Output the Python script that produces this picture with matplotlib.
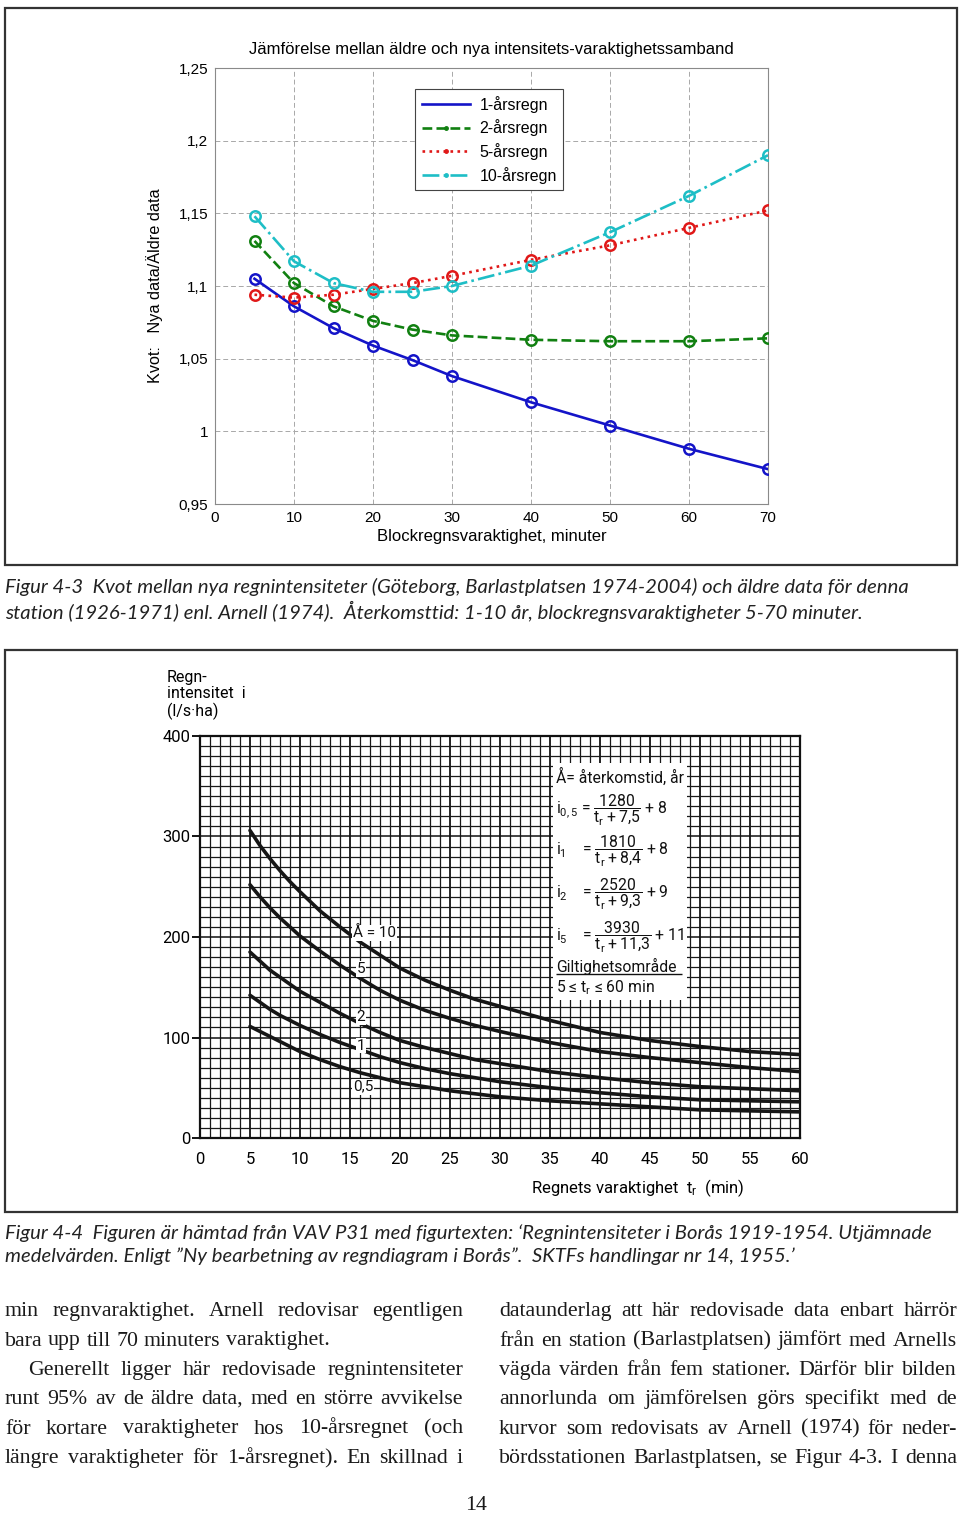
import numpy as np
import matplotlib
matplotlib.use("Agg")
import matplotlib.pyplot as plt
from matplotlib.patches import Rectangle
from matplotlib.lines import Line2D

W, H = 960, 1516

# --- Figur 4-3: ratio new/old intensities ---
dur = [5, 10, 15, 20, 25, 30, 40, 50, 60, 70]
r1 = [1.105, 1.086, 1.071, 1.059, 1.049, 1.038, 1.020, 1.004, 0.988, 0.974]
r2 = [1.131, 1.102, 1.086, 1.076, 1.070, 1.066, 1.063, 1.062, 1.062, 1.064]
r5 = [1.094, 1.092, 1.094, 1.098, 1.102, 1.107, 1.118, 1.128, 1.140, 1.152]
r10 = [1.148, 1.117, 1.102, 1.096, 1.096, 1.100, 1.114, 1.137, 1.162, 1.190]
top_names = ["1-årsregn", "2-årsregn", "5-årsregn", "10-årsregn"]
yt_top = [0.95, 1.0, 1.05, 1.1, 1.15, 1.2, 1.25]
yt_top_lab = ["0,95", "1", "1,05", "1,1", "1,15", "1,2", "1,25"]

# --- Figur 4-4: Borås intensity curves ---
tr = [5, 6, 7, 8, 9, 10, 12, 14, 16, 18, 20, 22.5, 25, 27.5, 30, 35, 40, 45, 50, 55, 60]
i10 = [306, 291, 278, 266, 255, 245, 226, 210, 195, 182, 169, 157, 147, 138, 131, 117, 105, 97, 91, 86, 83]
i5 = [252, 240, 229, 219, 210, 201, 186, 172, 159, 147, 137, 127, 119, 112, 106, 95, 86, 80, 75, 70, 66]
i2 = [185, 176, 167, 160, 153, 146, 135, 124, 114, 105, 97, 90, 84, 78, 74, 66, 60, 55, 51, 49, 47]
i1 = [142, 135, 128, 122, 117, 112, 103, 95, 88, 81, 75, 69, 64, 60, 56, 50, 45, 41, 38, 37, 36]
i05 = [111, 106, 101, 96, 91, 86, 78, 71, 65, 60, 55, 51, 47, 44, 41, 37, 34, 31, 28, 27, 26]

left_col = ["min regnvaraktighet. Arnell redovisar egentligen",
            "bara upp till 70 minuters varaktighet.",
            "Generellt ligger här redovisade regnintensiteter",
            "runt 95% av de äldre data, med en större avvikelse",
            "för kortare varaktigheter hos 10-årsregnet (och",
            "längre varaktigheter för 1-årsregnet). En skillnad i"]
right_col = ["dataunderlag att här redovisade data enbart härrör",
             "från en station (Barlastplatsen) jämfört med Arnells",
             "vägda värden från fem stationer. Därför blir bilden",
             "annorlunda om jämförelsen görs specifikt med de",
             "kurvor som redovisats av Arnell (1974) för neder-",
             "bördsstationen Barlastplatsen, se Figur 4-3. I denna"]

plt.rcParams["mathtext.fontset"] = "dejavusans"
fig = plt.figure(figsize=(W / 100, H / 100), dpi=100)


def fbox(x0, y0, x1, y1):
    # pixel box (top-left origin) -> figure fraction rect
    return [x0 / W, 1 - y1 / H, (x1 - x0) / W, (y1 - y0) / H]


for (y0, y1) in [(8, 565), (650, 1212)]:
    fig.add_artist(Rectangle((5 / W, 1 - y1 / H), 952 / W, (y1 - y0) / H,
                             transform=fig.transFigure, fill=False,
                             edgecolor="#333333", lw=1.6))

# ---------------- top chart ----------------
SANS = "Liberation Sans"
ax = fig.add_axes(fbox(215, 68, 768, 504))
styles = [("#1414c8", "-"), ("#118011", "--"), ("#e01818", ":"), ("#1ebec6", "-.")]
for ys, (c, ls) in zip([r1, r2, r5, r10], styles):
    ax.plot(dur, ys, color=c, ls=ls, lw=1.9, marker="o", ms=7.5, mfc="none",
            mew=1.8, zorder=3)
ax.set_xlim(0, 70)
ax.set_ylim(0.95, 1.25)
ax.set_xticks(range(0, 71, 10))
ax.set_yticks(yt_top)
ax.set_yticklabels(yt_top_lab)
ax.grid(True, color="#a8a8a8", ls=(0, (5, 3)), lw=0.7)
for s in ax.spines.values():
    s.set_color("#8a8a8a"); s.set_linewidth(0.8)
ax.tick_params(length=0, labelsize=11, pad=5)
for lab in ax.get_xticklabels() + ax.get_yticklabels():
    lab.set_family(SANS)
ax.set_title("Jämförelse mellan äldre och nya intensitets-varaktighetssamband",
             family=SANS, fontsize=12, pad=10)
ax.set_xlabel("Blockregnsvaraktighet, minuter", family=SANS, fontsize=12, labelpad=3)
ax.set_ylabel("Kvot:   Nya data/Äldre data", family=SANS, fontsize=11.7, labelpad=11)
handles = [Line2D([], [], color=c, ls=ls, lw=1.9, marker="." if i else None, ms=5)
           for i, (c, ls) in enumerate(styles)]
leg = ax.legend(handles, top_names, loc="upper left", bbox_to_anchor=(0.362, 0.952),
                borderaxespad=0, prop={"family": SANS, "size": 11.5}, fancybox=False,
                framealpha=1, edgecolor="#444444", handlelength=3.0, labelspacing=0.42,
                borderpad=0.42, handletextpad=0.6)
leg.get_frame().set_linewidth(0.8)

# captions
CAP = dict(family="Lato", style="italic", fontsize=14.6, va="center", color="#222222")
fig.text(5 / W, 1 - 587 / H, "Figur 4-3  Kvot mellan nya regnintensiteter (Göteborg, Barlastplatsen "
         "1974-2004) och äldre data för denna", **CAP)
fig.text(5 / W, 1 - 611 / H, "station (1926-1971) enl. Arnell (1974).  Återkomsttid: 1-10 år, "
         "blockregnsvaraktigheter 5-70 minuter.", **CAP)
fig.text(5 / W, 1 - 1233 / H, "Figur 4-4  Figuren är hämtad från VAV P31 med figurtexten: "
         "‘Regnintensiteter i Borås 1919-1954. Utjämnade", **CAP)
fig.text(5 / W, 1 - 1256 / H, "medelvärden. Enligt ”Ny bearbetning av regndiagram i Borås”.  "
         "SKTFs handlingar nr 14, 1955.’", **CAP)

# ---------------- bottom chart ----------------
NARROW = ["Roboto", "DejaVu Sans"]
bx = fig.add_axes(fbox(200, 736, 800, 1138))
bx.set_xlim(0, 60)
bx.set_ylim(0, 400)
bx.set_xticks(range(0, 61, 5))
bx.set_xticks(range(0, 61, 1), minor=True)
bx.set_yticks(range(0, 401, 100))
bx.set_yticks(range(0, 401, 10), minor=True)
bx.grid(True, which="minor", color="#1a1a1a", lw=0.9)
bx.grid(True, which="major", axis="x", color="#111111", lw=1.3)
bx.grid(True, which="major", axis="y", color="#111111", lw=1.1)
bx.set_axisbelow(True)
for s in bx.spines.values():
    s.set_color("#111111"); s.set_linewidth(1.6)
bx.tick_params(axis="x", which="both", length=0, pad=10, labelsize=12)
bx.tick_params(axis="y", which="minor", length=0)
bx.tick_params(axis="y", which="major", length=6, width=1.3, pad=1, labelsize=12)
for lab in bx.get_xticklabels() + bx.get_yticklabels():
    lab.set_family(NARROW)

for ys in [i10, i5, i2, i1, i05]:
    bx.plot(tr, ys, color="#161616", lw=2.6, solid_capstyle="round",
            solid_joinstyle="round", zorder=3)

bx.add_patch(Rectangle((35.3, 137), 13.4, 236, facecolor="white",
                       edgecolor="none", zorder=4))
TXT = dict(family=NARROW, fontsize=11.3, zorder=5, color="#111111")
bx.text(35.6, 359, "Å= återkomstid, år", va="center", **TXT)
bx.text(35.6, 326, r"i$_{\mathregular{0,5}}$ = $\mathregular{\dfrac{1280}{t_r+7{,}5}}$ + 8", va="center", **TXT)
bx.text(35.6, 285, r"i$_{\mathregular{1}}$    = $\mathregular{\dfrac{1810}{t_r+8{,}4}}$ + 8", va="center", **TXT)
bx.text(35.6, 242, r"i$_{\mathregular{2}}$    = $\mathregular{\dfrac{2520}{t_r+9{,}3}}$ + 9", va="center", **TXT)
bx.text(35.6, 200, r"i$_{\mathregular{5}}$    = $\mathregular{\dfrac{3930}{t_r+11{,}3}}$ + 11", va="center", **TXT)
bx.text(35.6, 171, "Giltighetsområde", va="center", **TXT)
bx.hlines(163, 35.6, 48.2, color="#111111", lw=1.0, zorder=5)
bx.text(35.6, 150, r"5 ≤ $\mathregular{t_r}$ ≤ 60 min", va="center", **TXT)

LBL = dict(family=NARROW, fontsize=11, zorder=5, va="center", color="#111111",
           bbox=dict(facecolor="white", edgecolor="none", pad=0.6))
bx.text(15.3, 204, "Å = 10", ha="left", **LBL)
bx.text(16.1, 168, "5", ha="center", **LBL)
bx.text(16.1, 120, "2", ha="center", **LBL)
bx.text(16.1, 92, "1", ha="center", **LBL)
bx.text(16.3, 51, "0,5", ha="center", **LBL)

fig.text(167 / W, 1 - 670 / H, "Regn-\nintensitet  i\n(l/s·ha)", family=NARROW,
         fontsize=11.5, va="top", linespacing=1.1)
fig.text(638 / W, 1 - 1188 / H, r"Regnets varaktighet  $\mathregular{t_r}$  (min)",
         family=NARROW, fontsize=12, ha="center", va="center")

# ---------------- body text (justified) ----------------
SERIF = "Liberation Serif"
renderer = fig.canvas.get_renderer()


def nat_width(s, fs):
    t = fig.text(0, 0, s, fontsize=fs, family=SERIF)
    w = t.get_window_extent(renderer).width
    t.remove()
    return w


base = 10
scale = min((458 - 6) / nat_width(s, base) for s in right_col + [left_col[0], left_col[3]])
BODY_FS = base * scale
space = nat_width("a a", BODY_FS) - nat_width("aa", BODY_FS)


def body_line(text, x0, x1, yb, justify=True):
    words = text.split()
    arts = [fig.text(0, 1 - yb / H, w, fontsize=BODY_FS, family=SERIF,
                     va="baseline", color="#1a1a1a") for w in words]
    widths = [a.get_window_extent(renderer).width for a in arts]
    gap = (x1 - x0 - sum(widths)) / (len(words) - 1) if justify else space
    x = x0
    for a, w in zip(arts, widths):
        a.set_x(x / W)
        x += w + gap


baselines = [1316, 1345.5, 1375, 1404, 1433.5, 1463]
for k, (s, yb) in enumerate(zip(left_col, baselines)):
    body_line(s, 28 if k == 2 else 5, 463, yb, justify=(k != 1))
for s, yb in zip(right_col, baselines):
    body_line(s, 499, 957, yb)
fig.text(476 / W, 1 - 1506 / H, "14", family=SERIF, fontsize=BODY_FS,
         ha="center", va="center", color="#1a1a1a")

fig.savefig("out.png", dpi=100, facecolor="white")
print("wrote out.png")
